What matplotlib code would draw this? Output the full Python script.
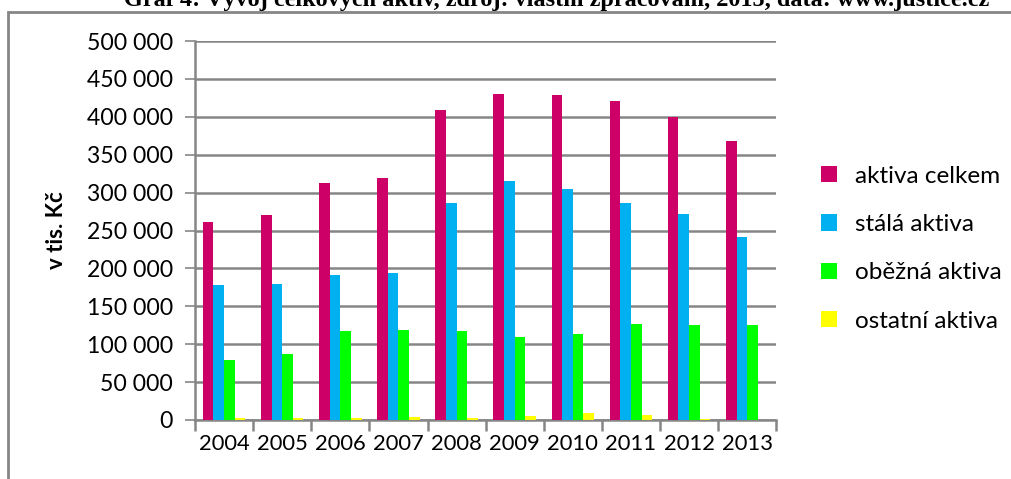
import matplotlib

matplotlib.use("Agg")
import matplotlib.pyplot as plt
import numpy as np
from matplotlib.patches import Rectangle

years = ["2004", "2005", "2006", "2007", "2008", "2009", "2010", "2011", "2012", "2013"]
aktiva_celkem = [261000, 270500, 313000, 319500, 408800, 430300, 428200, 421100, 399500, 368000]
stala_aktiva = [178500, 179500, 191300, 194300, 286600, 315200, 304700, 286600, 271700, 241500]
obezna_aktiva = [79000, 87200, 117900, 118800, 117900, 109600, 113600, 126700, 125400, 125000]
ostatni_aktiva = [2600, 2000, 2000, 4000, 3000, 5000, 9000, 6000, 1500, 500]

labels = ["aktiva celkem", "stálá aktiva", "oběžná aktiva", "ostatní aktiva"]
colors = ["#CC0066", "#00B0F0", "#00FF00", "#FFFF00"]
y_ticks = list(range(0, 500001, 50000))

plt.rcParams["font.family"] = ["Lato", "DejaVu Sans"]

fig = plt.figure(figsize=(10.11, 4.79), dpi=100)
ax = fig.add_axes([195 / 1011, 59 / 479, 581.3 / 1011, 379 / 479])

x = np.arange(len(years))
w = 0.1825
series = [aktiva_celkem, stala_aktiva, obezna_aktiva, ostatni_aktiva]
for i, (vals, lab, col) in enumerate(zip(series, labels, colors)):
    ax.bar(x + (i - 1.5) * w, vals, width=w, color=col, label=lab, zorder=3)

ax.set_xlim(-0.5, len(years) - 0.5)
ax.set_ylim(0, 500000)
ax.set_yticks(y_ticks)
ax.set_yticklabels([f"{v:,}".replace(",", " ") for v in y_ticks])
ax.set_xticks(x)
ax.set_xticklabels(years)
ax.set_xticks(np.arange(len(years) + 1) - 0.5, minor=True)

grid_col = "#868686"
ax.grid(axis="y", color=grid_col, linewidth=1.8, zorder=0)
ax.set_axisbelow(True)
for side in ("top", "right"):
    ax.spines[side].set_visible(False)
for side in ("left", "bottom"):
    ax.spines[side].set_color(grid_col)
    ax.spines[side].set_linewidth(1.8)

ax.tick_params(axis="y", length=7, width=1.2, color=grid_col, labelsize=16.6, pad=9)
ax.tick_params(axis="x", which="major", length=0, labelsize=15.8, pad=10)
ax.tick_params(axis="x", which="minor", length=8, width=1.8, color=grid_col)

ax.set_ylabel("v tis. Kč", fontsize=16, fontweight="bold", labelpad=14)

ax.legend(loc="center left", bbox_to_anchor=(1.04, 0.452), frameon=False,
          fontsize=17.5, handlelength=0.65, handleheight=0.65, handletextpad=0.75,
          labelspacing=1.12)

# outer frame of the figure box, open to the right and bottom
fig.patches.append(Rectangle((8 / 1011, -0.1), 1.2, (479 - 12) / 479 + 0.1,
                             transform=fig.transFigure, fill=False,
                             edgecolor=grid_col, linewidth=2))

fig.text(557 / 1011, 1 - 6 / 479,
         "Graf 4: Vývoj celkových aktiv, zdroj: vlastní zpracování, 2015, data: www.justice.cz",
         ha="center", va="baseline", fontsize=17.5, fontweight="bold",
         family="Liberation Serif")

fig.savefig("out.png", dpi=100)
